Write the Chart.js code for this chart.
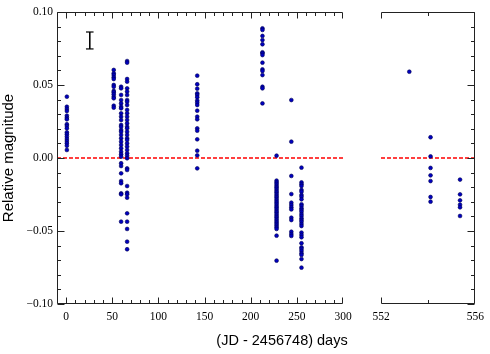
<!DOCTYPE html>
<html>
<head>
<meta charset="utf-8">
<script src="https://cdn.jsdelivr.net/npm/chart.js@4.4.0/dist/chart.umd.min.js"></script>
<style>
  html, body { margin: 0; padding: 0; background: #fff; }
  #wrap { position: relative; width: 490px; height: 354px; overflow: hidden; }
  #wrap canvas { position: absolute; left: 0; top: 0; }
  #x-title {
    position: absolute; left: 190px; width: 184px; top: 331px;
    text-align: center; font: 14.5px "Liberation Sans", sans-serif; line-height: 18px; color: #000;
  }
</style>
</head>
<body>
<div id="wrap">
  <canvas id="left-chart" width="490" height="354"></canvas>
  <canvas id="right-chart" width="490" height="354"></canvas>
  <div id="x-title">(JD - 2456748) days</div>
</div>
<script>
// --- data: one column of points per observing night ---
const leftDays = [0.7, 51.5, 59.5, 66, 142, 212.7, 228, 244, 255];
const leftMags = [
    [0.0420, 0.0351, 0.0336, 0.0322, 0.0290, 0.0276, 0.0265, 0.0231, 0.0219, 0.0203, 0.0176, 0.0162, 0.0146, 0.0130, 0.0116, 0.0101, 0.0084, 0.0055],
    [0.0603, 0.0580, 0.0568, 0.0553, 0.0541, 0.0500, 0.0488, 0.0459, 0.0450, 0.0436, 0.0420, 0.0409, 0.0358, 0.0345],
    [0.0488, 0.0477, 0.0432, 0.0397, 0.0374, 0.0351, 0.0340, 0.0306, 0.0283, 0.0260, 0.0226, 0.0214, 0.0192, 0.0180, 0.0158, 0.0135, 0.0112, 0.0089, 0.0066, 0.0043, 0.0025, 0.0009, -0.0036, -0.0055, -0.0105, -0.0158, -0.0173, -0.0242, -0.0249, -0.0436],
    [0.0664, 0.0653, 0.0541, 0.0523, 0.0477, 0.0455, 0.0432, 0.0397, 0.0386, 0.0363, 0.0329, 0.0306, 0.0283, 0.0260, 0.0237, 0.0214, 0.0203, 0.0180, 0.0158, 0.0135, 0.0123, 0.0100, 0.0078, 0.0055, 0.0032, 0.0015, -0.0002, -0.0071, -0.0082, -0.0192, -0.0238, -0.0249, -0.0272, -0.0379, -0.0436, -0.0486, -0.0573, -0.0625],
    [0.0564, 0.0505, 0.0475, 0.0443, 0.0432, 0.0416, 0.0393, 0.0379, 0.0363, 0.0324, 0.0283, 0.0265, 0.0203, 0.0187, 0.0128, 0.0050, 0.0018, -0.0071],
    [0.0888, 0.0877, 0.0836, 0.0808, 0.0779, 0.0724, 0.0717, 0.0705, 0.0653, 0.0607, 0.0596, 0.0568, 0.0488, 0.0477, 0.0374],
    [0.0016, -0.0155, -0.0167, -0.0178, -0.0190, -0.0201, -0.0212, -0.0224, -0.0235, -0.0247, -0.0258, -0.0269, -0.0281, -0.0292, -0.0304, -0.0315, -0.0327, -0.0338, -0.0349, -0.0361, -0.0372, -0.0384, -0.0395, -0.0406, -0.0418, -0.0429, -0.0441, -0.0452, -0.0463, -0.0475, -0.0486, -0.0532, -0.0703],
    [0.0397, 0.0112, -0.0123, -0.0247, -0.0306, -0.0322, -0.0338, -0.0352, -0.0409, -0.0425, -0.0505, -0.0521, -0.0534],
    [-0.0066, -0.0167, -0.0180, -0.0192, -0.0219, -0.0231, -0.0253, -0.0265, -0.0283, -0.0317, -0.0329, -0.0345, -0.0356, -0.0368, -0.0384, -0.0397, -0.0413, -0.0425, -0.0436, -0.0452, -0.0466, -0.0511, -0.0527, -0.0543, -0.0584, -0.0612, -0.0623, -0.0637, -0.0653, -0.0664, -0.0692, -0.0751]
];
const rightDays = [553.2, 554.1, 555.35];
const rightMags = [
    [0.0591],
    [0.0142, 0.0011, -0.0068, -0.0119, -0.0158, -0.0267, -0.0299],
    [-0.0148, -0.0249, -0.0290, -0.0320, -0.0338, -0.0397]
];

// typical error bar (drawn top-left)
const errBarDay = 25.5;
const errBarMags = [0.0863, 0.0747];

// axis ranges / tick labels
const leftRange = [-10, 300];
const rightRange = [552, 556];
const leftXLabels = [0, 50, 100, 150, 200, 250, 300];
const rightXLabels = [552, 556];
const yRange = [-0.10, 0.10];
const yLabels = [-0.10, -0.05, 0.00, 0.05, 0.10];

const SERIF = '"Liberation Serif", "DejaVu Serif", serif';
const SANS = '"Liberation Sans", "DejaVu Sans", sans-serif';
const near = (a, b) => Math.abs(a - b) < 1e-6;

function toPoints(days, mags) {
    const pts = [];
    days.forEach((d, i) => mags[i].forEach(m => pts.push({ x: d, y: m })));
    return pts;
}

function fmtY(v) {
    if (near(v, 0)) return '0.00';
    return (v < 0 ? '\u2212' : '') + Math.abs(v).toFixed(2);
}

// --- plugin: spines + inward ticks (major/minor) ---
const framePlugin = {
    id: 'frame',
    afterDatasetsDraw(chart, args, opts) {
        const { ctx, chartArea: a, scales: { x, y } } = chart;
        const L = Math.round(a.left) + 0.5, R = Math.round(a.right) - 0.5;
        const T = Math.round(a.top) + 0.5, B = Math.round(a.bottom) - 0.5;
        ctx.save();
        ctx.strokeStyle = '#222';
        ctx.lineWidth = 1;
        ctx.beginPath();
        ctx.moveTo(L, T); ctx.lineTo(R, T);
        ctx.moveTo(L, B); ctx.lineTo(R, B);
        if (opts.side === 'left') { ctx.moveTo(L, T); ctx.lineTo(L, B); }
        else { ctx.moveTo(R, T); ctx.lineTo(R, B); }

        x.ticks.forEach(t => {
            const px = Math.round(x.getPixelForValue(t.value)) + (t.value === x.max ? -0.5 : 0.5);
            const major = opts.xMajor.some(v => near(v, t.value));
            const len = major ? 6 : 3.5;
            ctx.moveTo(px, T); ctx.lineTo(px, T + len);
            ctx.moveTo(px, B); ctx.lineTo(px, B - len);
        });
        y.ticks.forEach(t => {
            const py = Math.round(y.getPixelForValue(t.value)) + 0.5;
            const major = yLabels.some(v => near(v, t.value));
            const len = major ? 7 : 3.5;
            if (opts.side === 'left') { ctx.moveTo(L, py); ctx.lineTo(L + len, py); }
            else { ctx.moveTo(R, py); ctx.lineTo(R - len, py); }
        });
        ctx.stroke();
        ctx.restore();
    }
};

function yScale(showLabels) {
    return {
        type: 'linear',
        min: yRange[0], max: yRange[1],
        grid: { display: false, drawTicks: false },
        border: { display: false },
        ticks: {
            display: showLabels,
            stepSize: 0.01,
            autoSkip: false,
            padding: 4,
            color: '#000',
            font: { family: SERIF, size: 11.5 },
            callback: v => yLabels.some(l => near(l, v)) ? fmtY(v) : ''
        },
        title: {
            display: showLabels,
            text: 'Relative magnitude',
            color: '#000',
            padding: 0,
            font: { family: SANS, size: 15 }
        },
        afterFit: s => { s.width = showLabels ? 57 : 0; }
    };
}

function xScale(range, step, labels) {
    return {
        type: 'linear',
        min: range[0], max: range[1],
        grid: { display: false, drawTicks: false },
        border: { display: false },
        ticks: {
            stepSize: step,
            autoSkip: false,
            maxRotation: 0,
            padding: 6,
            color: '#000',
            font: { family: SERIF, size: 11.5 },
            callback: v => labels.some(l => near(l, v)) ? String(v) : ''
        },
        afterFit: s => { s.height = 50; }
    };
}

function zeroLine(range) {
    return {
        type: 'line',
        data: [{ x: range[0], y: 0 }, { x: range[1], y: 0 }],
        borderColor: '#ff0000',
        borderWidth: 1.5,
        borderDash: [4, 2],
        pointRadius: 0,
        order: 2
    };
}

function dotSet(points) {
    return {
        type: 'scatter',
        data: points,
        pointRadius: 1.9,
        pointBackgroundColor: '#0000c0',
        pointBorderColor: '#000050',
        pointBorderWidth: 0.6,
        order: 0
    };
}

const commonOpts = {
    responsive: false,
    devicePixelRatio: 1,
    animation: false,
    events: [],
    plugins: { legend: { display: false }, tooltip: { enabled: false } }
};

// --- left panel: 0..300 days ---
new Chart(document.getElementById('left-chart'), {
    type: 'scatter',
    data: {
        datasets: [
            dotSet(toPoints(leftDays, leftMags)),
            zeroLine(leftRange),
            {
                type: 'line',
                data: errBarMags.map(m => ({ x: errBarDay, y: m })),
                borderColor: '#000',
                borderWidth: 1,
                pointStyle: 'line',
                pointRadius: 3.8,
                pointBorderColor: '#000',
                pointBorderWidth: 1.2,
                order: 1
            }
        ]
    },
    options: {
        ...commonOpts,
        layout: { padding: { left: 0, right: 147, top: 12, bottom: 0 } },
        scales: { x: xScale(leftRange, 10, leftXLabels), y: yScale(true) },
        plugins: { ...commonOpts.plugins, frame: { side: 'left', xMajor: leftXLabels } }
    },
    plugins: [framePlugin]
});

// --- right panel: 552..556 days ---
new Chart(document.getElementById('right-chart'), {
    type: 'scatter',
    data: {
        datasets: [dotSet(toPoints(rightDays, rightMags)), zeroLine(rightRange)]
    },
    options: {
        ...commonOpts,
        layout: { padding: { left: 381, right: 14, top: 12, bottom: 0 } },
        scales: { x: xScale(rightRange, 2, rightXLabels), y: yScale(false) },
        plugins: { ...commonOpts.plugins, frame: { side: 'right', xMajor: rightXLabels } }
    },
    plugins: [framePlugin]
});
</script>
</body>
</html>
